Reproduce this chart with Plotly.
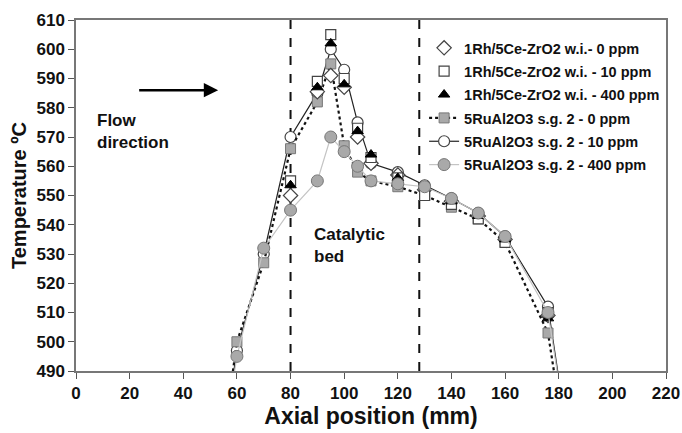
import plotly.graph_objects as go

# ---- data ----
x_ru = [50, 60, 70, 80, 90, 95, 100, 105, 110, 120, 130, 140, 150, 160, 176, 185]
ru_0 = [433, 500, 527, 566, 582, 595, 567, 558, 555, 553, 550, 546, 542, 534, 503, 450]
ru_10 = [436, 497, 530, 570, 585, 600, 593, 575, 561, 558, 553.5, 549, 544, 536, 512, 457]
ru_400 = [436, 495, 532, 545, 555, 570, 565, 560, 555, 554, 553, 549, 544, 536, 510, 457]

x_rh = [80, 90, 95, 100, 105, 110, 120, 130, 140, 150, 160, 176]
rh_0 = [550, 585.5, 591, 587, 570, 561, 557, 552, 548, 543, 535, 509]
rh_10 = [555, 589, 605, 590, 573, 563, 556, 550, 547, 542, 534, 510]
rh_400 = [553.5, 587, 602, 588, 572, 564, 556, 553, 548, 543, 535, 508]

bed_edges = [80, 128]
x_ticks = list(range(0, 221, 20))
y_ticks = list(range(490, 611, 10))

names = ["1Rh/5Ce-ZrO2 w.i.- 0 ppm", "1Rh/5Ce-ZrO2 w.i. - 10 ppm", "1Rh/5Ce-ZrO2 w.i. - 400 ppm",
         "5RuAl2O3 s.g. 2 - 0 ppm", "5RuAl2O3 s.g. 2 - 10 ppm", "5RuAl2O3 s.g. 2 - 400 ppm"]

FONT = "Liberation Sans, Arial, sans-serif"
fig = go.Figure()

def add(x, y, name, rank, mode, marker, line=None):
    fig.add_trace(go.Scatter(x=x, y=y, name=name, mode=mode, marker=marker,
                             line=line or {}, legendrank=rank, legendgroup=name))

add(x_ru, ru_10, names[4], 5, "lines+markers",
    dict(symbol="circle", size=11, color="white", line=dict(color="#444", width=1.2)),
    dict(color="#222", width=1.2))
add(x_ru, ru_0, names[3], 4, "lines+markers",
    dict(symbol="square", size=10, color="#a9a9a9", line=dict(color="#777", width=1)),
    dict(color="#111", width=2.2, dash="dot"))
add(x_rh, rh_0, names[0], 1, "markers",
    dict(symbol="diamond", size=11, color="white", line=dict(color="#444", width=1.2)))
add(x_rh, rh_10, names[1], 2, "markers",
    dict(symbol="square", size=10, color="white", line=dict(color="#444", width=1.2)))
add(x_rh, rh_400, names[2], 3, "markers",
    dict(symbol="triangle-up", size=10, color="#000", line=dict(color="#000", width=1)))
add(x_ru, ru_400, names[5], 6, "lines+markers",
    dict(symbol="circle", size=12, color="#a9a9a9", line=dict(color="#777", width=1)),
    dict(color="#c4c4c4", width=1.2))

for xb in bed_edges:
    fig.add_shape(type="line", x0=xb, x1=xb, y0=490, y1=610, xref="x", yref="y",
                  line=dict(color="#111", width=2, dash="dash"), layer="below")

BOLD = dict(family=FONT, color="#111", weight="bold")

fig.add_annotation(x=53, y=586, ax=23, ay=586, xref="x", yref="y", axref="x", ayref="y",
                   text="", showarrow=True, arrowhead=2, arrowsize=1.1, arrowwidth=2.6,
                   arrowcolor="#000")
fig.add_annotation(x=7, y=572, xref="x", yref="y", xanchor="left", yanchor="middle",
                   text="Flow<br>direction", showarrow=False, align="left",
                   font=dict(size=17, **BOLD))
fig.add_annotation(x=88, y=533, xref="x", yref="y", xanchor="left", yanchor="middle",
                   text="Catalytic<br>bed", showarrow=False, align="left",
                   font=dict(size=17, **BOLD))

axis_common = dict(showgrid=False, zeroline=False, ticks="outside", ticklen=6,
                   tickwidth=1.2, tickcolor="#555", showline=True, linecolor="#777",
                   linewidth=1.5, mirror=True, automargin=False,
                   tickfont=dict(size=17, **BOLD))

fig.update_layout(
    width=682, height=433,
    margin=dict(l=76, r=16, t=20, b=62),
    paper_bgcolor="white", plot_bgcolor="white",
    font=dict(family=FONT, color="#111"),
    xaxis=dict(range=[0, 220], tickvals=x_ticks,
               title=dict(text="Axial position (mm)", font=dict(size=23, **BOLD),
                          standoff=6),
               **axis_common),
    yaxis=dict(range=[490, 610], tickvals=y_ticks,
               title=dict(text="Temperature ºC", font=dict(size=20, **BOLD),
                          standoff=4),
               **axis_common),
    legend=dict(x=0.590, y=0.966, xanchor="left", yanchor="top",
                bgcolor="rgba(0,0,0,0)", traceorder="grouped", tracegroupgap=1.5,
                font=dict(size=14.5, **BOLD)),
    showlegend=True,
)

fig.write_html("out.html", post_script="document.body.style.margin='0px';",
               config={"displayModeBar": False})
